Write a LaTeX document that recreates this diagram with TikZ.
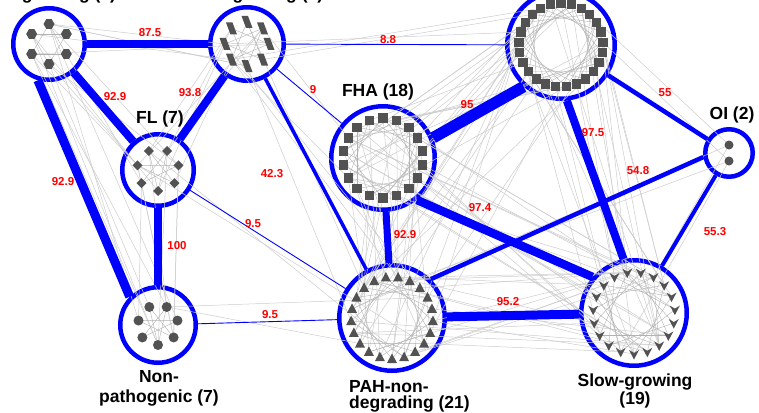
\documentclass[tikz,border=0pt]{standalone}
\usepackage{fontspec}
\setmainfont{Liberation Sans}
\usetikzlibrary{calc}

\begin{document}
\begin{tikzpicture}[x=1pt,y=-1pt,
  grp/.style={circle,draw=blue,line width=4.5pt,inner sep=0pt},
  lab/.style={font=\bfseries\fontsize{17.5}{20}\selectfont,inner sep=0pt},
  wt/.style={text=red,font=\bfseries\fontsize{11.5}{12}\selectfont,inner sep=1pt},
  ed/.style={draw=blue,line width=#1},
  gl/.style={gray!40,line width=0.5pt},
  ch/.style={gray!60,line width=0.4pt},
  sp/.style={fill=black!68}]
\useasboundingbox (0,0) rectangle (759,412);
\clip (0,0) rectangle (759,412);
\foreach \g/\x/\y/\rad/\n/\q/\ang in {fg/49/44/38/6/20/90, pd/247/44/39/8/22/90, fl/158/170/38/7/21/90,
  np/158/325/40/7/20/90, fha/383/158/54/18/40/90, pa/561/45/56/25/42/270, pn/392/318/55/21/41/90,
  sg/634/313/55/19/41/90, oi/729/153/26/2/8/90}
{ \node[grp,minimum size=2*\rad-4.5] (\g) at (\x,\y) {};
  \foreach \i in {1,...,\n} {\pgfmathsetmacro\ag{\ang+360*(\i-1)/\n}
    \coordinate (\g-\i) at ($(\g)+(\ag:\q)$);} }
\pgfmathsetseed{5}
\foreach \u/\m/\v/\k/\c in {fg/6/pd/8/5, fg/6/fl/7/6, pd/8/fl/7/6, fg/6/np/7/6, fl/7/np/7/7, pd/8/fha/18/2,
  pd/8/pa/25/3, pd/8/pn/21/4, fl/7/pn/21/2, np/7/pn/21/2, fha/18/pa/25/17, pa/25/oi/2/2, pa/25/sg/19/18,
  pn/21/oi/2/2, fha/18/sg/19/17, fha/18/pn/21/17, pn/21/sg/19/18, oi/2/sg/19/2, pa/25/pn/21/12}
  \foreach \j in {1,...,\c} {\pgfmathrandominteger{\ia}{1}{\m}\pgfmathrandominteger{\ib}{1}{\k}
    \draw[gl] (\u-\ia) -- (\v-\ib);}
\foreach \g/\n/\s in {fg/6/2, pd/8/3, fl/7/3, np/7/3, fha/18/5, pa/25/7, pn/21/6, sg/19/6}
  \foreach \i in {1,...,\n} {\pgfmathtruncatemacro\jj{mod(\i+\s-1,\n)+1}\draw[ch] (\g-\i) -- (\g-\jj);}
\foreach \u/\v/\w in {fg/pd/8, fg/fl/8, pd/fl/8, fg.253/np.135/9, fl/np/8, pd/fha/0.9, pd/pa/0.9, pd/pn/3.5,
  fl/pn/0.9, np/pn/0.9, fha.22/pa.228/11.5, pa/oi/4.5, pa.276/sg.101/8, pn.45/oi.189/4.5, fha.309/sg.139/8.5,
  fha/pn/7, pn/sg/9, oi/sg/4}
  \draw[ed=\w] (\u) -- (\v);
\foreach \i in {1,...,6} \fill[sp,shift={(fg-\i)}] (0:5.5) -- (60:5.5) -- (120:5.5) -- (180:5.5) -- (240:5.5) -- (300:5.5) -- cycle;
\foreach \i in {1,...,8} \fill[sp,shift={(pd-\i)}] (-5.5,-6) -- (1,-6) -- (5.5,6) -- (-1,6) -- cycle;
\foreach \i in {1,...,7} \fill[sp,shift={(fl-\i)}] (5,0) -- (0,5) -- (-5,0) -- (0,-5) -- cycle;
\foreach \i in {1,...,7} \fill[sp] (np-\i) circle (5);
\foreach \i in {1,...,18} \fill[sp,shift={(fha-\i)}] (-4.8,-4.8) rectangle (4.8,4.8);
\foreach \i in {1,...,25} \fill[sp,shift={(pa-\i)}] (-4.6,-4.6) rectangle (4.6,4.6);
\foreach \i in {1,...,21} \fill[sp,shift={(pn-\i)}] (0,-5.5) -- (5,4) -- (-5,4) -- cycle;
\foreach \i in {1,...,19} \fill[sp,shift={(sg-\i)}] (0,5.5) -- (5,-4) -- (0,-1) -- (-5,-4) -- cycle;
\foreach \i in {1,2} \fill[sp] (oi-\i) circle (4.5);
\foreach \x/\y/\v [count=\i] in {150/33/87.5, 115/97/92.9, 190/93/93.8, 63/182/92.9, 272/174/42.3, 253/224/9.5,
  177/246/100, 313/90/9, 388/40/8.8, 467/105/95, 665/93/55, 593/133/97.5, 638/171/54.8, 480/208/97.4,
  405/235/92.9, 508/302/95.2, 715/232/55.3, 270/315/9.5}
  \node[wt] (w\i) at (\x,\y) {\v};
\node[lab,anchor=base] (fgl) at (48,-0.5) {Fast-growing (6)};
\node[lab,anchor=base] (pdl) at (247,-0.5) {PAH-degrading (8)};
\node[lab] (fll) at (160,119) {FL (7)};
\node[lab] (fhal) at (378,92) {FHA (18)};
\node[lab] (oil) at (732,115) {OI (2)};
\node[lab,align=center] (npl) at (159,388) {Non-\\pathogenic (7)};
\node[lab,align=left,anchor=west,font=\bfseries\fontsize{17.5}{16}\selectfont] (pnl) at (349,396) {PAH-non-\\degrading (21)};
\node[lab,align=center,font=\bfseries\fontsize{17.5}{18}\selectfont] (sgl) at (635,391) {Slow-growing\\(19)};
\end{tikzpicture}
\end{document}
